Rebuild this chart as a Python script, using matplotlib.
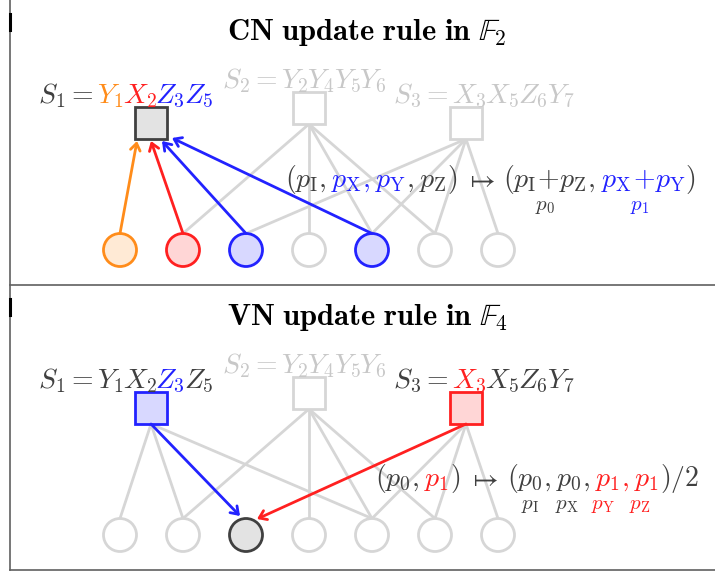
import numpy as np
import matplotlib
matplotlib.use("Agg")
import matplotlib.pyplot as plt
from matplotlib.patches import Circle, Rectangle

plt.rcParams['mathtext.fontset'] = 'cm'
plt.rcParams['font.family'] = 'serif'
plt.rcParams['font.serif'] = ['cmr10', 'DejaVu Serif']

# colours
DARK = '#404040'
LIGHT = '#d6d6d6'
LTXT = '#c8c8c8'
ORANGE = '#ff8c1a'
RED = '#ff2020'
BLUE = '#2222ff'
F_OR = '#ffead5'
F_RED = '#ffd6d6'
F_BLUE = '#d8d8ff'
F_GRAY = '#e3e3e3'

# graph data
vn_x = [120, 183, 246, 309, 372, 435, 498]
cn_x = [151, 309, 466]
cn_dy = [0, -15, 0]              # S2 sits a bit higher
checks = [[1, 2, 3, 5], [2, 4, 5, 6], [3, 5, 6, 7]]
cn_labels = [
    ["$S_1=$", "$Y_1$", "$X_2$", "$Z_3$", "$Z_5$"],
    ["$S_2=$", "$Y_2$", "$Y_4$", "$Y_5$", "$Y_6$"],
    ["$S_3=$", "$X_3$", "$X_5$", "$Z_6$", "$Y_7$"],
]
titles = ["$\\mathbf{CN\\ update\\ rule\\ in}\\ \\mathbb{F}_2$",
          "$\\mathbf{VN\\ update\\ rule\\ in}\\ \\mathbb{F}_4$"]

panel_y = [0, 285]
R = 16.5
H = 16

fig = plt.figure(figsize=(7.15, 5.72), dpi=100)
ax = fig.add_axes([0, 0, 1, 1])
ax.set_xlim(0, 715)
ax.set_ylim(572, 0)
ax.axis('off')
renderer = fig.canvas.get_renderer()


def colored(x, y, parts, size=20):
    for p in parts:
        s, c = p[0], p[1]
        gap = p[2] if len(p) > 2 else 0
        t = ax.text(x, y, s, color=c, fontsize=size, ha='left', va='baseline', zorder=6)
        bb = t.get_window_extent(renderer=renderer)
        x = ax.transData.inverted().transform((bb.x1, bb.y0))[0] + gap


def draw_graph(py, skip, cn_style, vn_style, label_cols):
    vy = py + 250
    for c, vs in enumerate(checks):
        cy = py + 123 + cn_dy[c]
        for v in vs:
            if (c, v) in skip:
                continue
            ax.plot([cn_x[c], vn_x[v - 1]], [cy + H, vy - R], color=LIGHT, lw=2, zorder=1,
                    solid_capstyle='round')
    for i, x in enumerate(vn_x):
        ec, fc = vn_style.get(i + 1, (LIGHT, 'white'))
        ax.add_patch(Circle((x, vy), R, fc=fc, ec=ec, lw=2, zorder=4))
    for c, x in enumerate(cn_x):
        cy = py + 123 + cn_dy[c]
        ec, fc = cn_style.get(c, (LIGHT, 'white'))
        ax.add_patch(Rectangle((x - H, cy - H), 2 * H, 2 * H, fc=fc, ec=ec, lw=2, zorder=4))
        lx = [38, 222, 393][c]
        parts = [(s, col, 4 if i == 0 else -1) for i, (s, col) in enumerate(zip(cn_labels[c], label_cols[c]))]
        colored(lx, cy - 20, parts)


# frame
ax.plot([10, 10], [0, 570], color='#606060', lw=1.2)
ax.plot([10, 715], [285, 285], color='#606060', lw=1.2)
ax.plot([10, 715], [570, 570], color='#606060', lw=1.2)
ax.plot([10, 10], [14, 30], color='black', lw=2.2)
ax.plot([10, 10], [299, 315], color='black', lw=2.2)

for k in range(2):
    ax.text(367, panel_y[k] + 40, titles[k], fontsize=22, ha='center', va='baseline', color='black')

# --- top panel: CN update
py = panel_y[0]
draw_graph(py, {(0, 1), (0, 2), (0, 3), (0, 5)},
           {0: (DARK, F_GRAY)},
           {1: (ORANGE, F_OR), 2: (RED, F_RED), 3: (BLUE, F_BLUE), 5: (BLUE, F_BLUE)},
           [[DARK, ORANGE, RED, BLUE, BLUE], [LTXT] * 5, [LTXT] * 5])
arrow_src = [1, 2, 3, 5]
arrow_col = [ORANGE, RED, BLUE, BLUE]
arrow_dx = [-14, 0, 11, 21]
arrow_dy = [2, 2, 2, -1]
for v, c, dx, dy in zip(arrow_src, arrow_col, arrow_dx, arrow_dy):
    ax.annotate('', xy=(cn_x[0] + dx, py + 123 + H + dy), xytext=(vn_x[v - 1], py + 250 - R),
                arrowprops=dict(arrowstyle='->,head_length=0.5,head_width=0.35', color=c, lw=2,
                                shrinkA=0, shrinkB=0), zorder=5)

colored(285, py + 187, [("$(p_{\\mathrm{I}},$", DARK, 5), ("$p_{\\mathrm{X}},$", BLUE, 5),
                        ("$p_{\\mathrm{Y}}$", BLUE, 0), ("$,$", DARK, 5),
                        ("$p_{\\mathrm{Z}})$", DARK, 7), ("$\\mapsto$", DARK, 8),
                        ("$(p_{\\mathrm{I}}\\!+\\!p_{\\mathrm{Z}},$", DARK, 5),
                        ("$p_{\\mathrm{X}}\\!+\\!p_{\\mathrm{Y}}$", BLUE, 0), ("$)$", DARK)])
ax.text(545, py + 210, "$p_0$", color=DARK, fontsize=15, ha='center', va='baseline')
ax.text(640, py + 210, "$p_1$", color=BLUE, fontsize=15, ha='center', va='baseline')

# --- bottom panel: VN update
py = panel_y[1]
draw_graph(py, {(0, 3), (2, 3)},
           {0: (BLUE, F_BLUE), 2: (RED, F_RED)},
           {3: (DARK, F_GRAY)},
           [[DARK, DARK, DARK, BLUE, DARK], [LTXT] * 5, [DARK, RED, DARK, DARK, DARK]])
for c, col, dx, dy in [(0, BLUE, -6, -19), (2, RED, 11, -16)]:
    ax.annotate('', xy=(vn_x[2] + dx, py + 250 + dy), xytext=(cn_x[c], py + 123 + H),
                arrowprops=dict(arrowstyle='->,head_length=0.5,head_width=0.35', color=col, lw=2,
                                shrinkA=0, shrinkB=0), zorder=5)

colored(375, py + 201, [("$(p_0,$", DARK, 5), ("$p_1$", RED, 1), ("$)$", DARK, 8), ("$\\mapsto$", DARK, 8),
                        ("$(p_0,$", DARK, 5), ("$p_0,$", DARK, 5), ("$p_1,$", RED, 5),
                        ("$p_1$", RED, 1), ("$)/2$", DARK)])
sub_x = [530, 567, 603, 640]
sub_t = ["$p_{\\mathrm{I}}$", "$p_{\\mathrm{X}}$", "$p_{\\mathrm{Y}}$", "$p_{\\mathrm{Z}}$"]
sub_c = [DARK, DARK, RED, RED]
for x, t, c in zip(sub_x, sub_t, sub_c):
    ax.text(x, py + 224, t, color=c, fontsize=15, ha='center', va='baseline')

fig.savefig('out.png', dpi=100)
